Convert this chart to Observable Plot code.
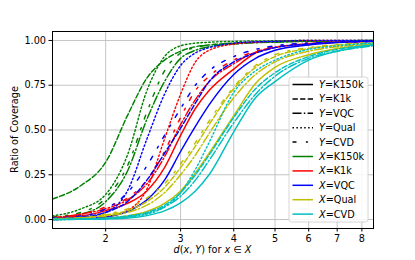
<!DOCTYPE html>
<html><head><meta charset="utf-8">
<script src="https://cdn.jsdelivr.net/npm/d3@7"></script>
<script src="https://cdn.jsdelivr.net/npm/@observablehq/plot@0.6"></script>
<style>
body{margin:0;background:#fff;}
#wrap{position:relative;width:415px;height:260px;font-family:"DejaVu Sans",sans-serif;}
</style></head><body><div id="wrap"></div>
<script>
// sample positions along d(x,Y) (log axis)
const xGrid = [1.5,1.75,2,2.25,2.5,2.75,3,3.25,3.5,4,4.5,5,6,7,8.5];
const xTicks = [2,3,4,5,6,7,8];
const yTicks = [0,0.25,0.5,0.75,1];
const xSets = ["K150k","K1k","VQC","Qual","CVD"];
const ySets = ["K150k","K1k","VQC","Qual","CVD"];
const xColors = ["#008000","#ff0000","#0000ff","#bfbf00","#00bfbf"];

// X = K150k
const g_K1k  = [0.115,0.19,0.32,0.58,0.79,0.89,0.94,0.965,0.975,0.985,0.99,0.993,0.996,0.998,1.0];
const g_VQC  = [0.01,0.03,0.10,0.27,0.56,0.77,0.90,0.945,0.965,0.98,0.987,0.99,0.995,0.997,0.999];
const g_Qual = [0.02,0.06,0.14,0.36,0.72,0.91,0.97,0.985,0.99,0.995,0.997,0.998,1,1,1];
const g_CVD  = [0.015,0.04,0.12,0.30,0.60,0.83,0.93,0.96,0.975,0.985,0.99,0.993,0.996,0.998,1];
// X = K1k
const r_K150k = [0.01,0.02,0.05,0.09,0.16,0.29,0.47,0.62,0.72,0.84,0.93,0.96,0.98,0.99,0.995];
const r_VQC   = [0.01,0.03,0.06,0.11,0.20,0.35,0.53,0.67,0.77,0.87,0.935,0.962,0.982,0.99,0.995];
const r_Qual  = [0.0,0.005,0.015,0.05,0.17,0.45,0.70,0.88,0.945,0.98,0.99,0.995,1,1,1];
const r_CVD   = [0.01,0.03,0.07,0.12,0.22,0.38,0.57,0.72,0.80,0.89,0.94,0.965,0.985,0.99,0.995];
// X = VQC
const b_K150k = [0.0,0.005,0.015,0.045,0.11,0.22,0.38,0.52,0.64,0.81,0.90,0.945,0.975,0.988,0.995];
const b_K1k   = [0.005,0.015,0.04,0.10,0.22,0.37,0.51,0.65,0.77,0.88,0.93,0.96,0.98,0.99,0.995];
const b_Qual  = [0.005,0.01,0.04,0.16,0.45,0.70,0.86,0.93,0.96,0.985,0.992,0.995,1,1,1];
const b_CVD   = [0.01,0.02,0.06,0.15,0.30,0.47,0.62,0.75,0.83,0.91,0.95,0.97,0.985,0.99,0.995];
// X = Qual
const y_K150k = [0.0,0.003,0.008,0.02,0.045,0.09,0.16,0.26,0.37,0.58,0.76,0.85,0.92,0.955,0.975];
const y_K1k   = [0.005,0.01,0.025,0.05,0.10,0.18,0.29,0.41,0.53,0.73,0.85,0.91,0.955,0.975,0.985];
const y_VQC   = [0.003,0.008,0.02,0.04,0.08,0.15,0.25,0.36,0.48,0.68,0.81,0.88,0.94,0.965,0.98];
const y_CVD   = [0.005,0.012,0.03,0.06,0.12,0.20,0.31,0.43,0.55,0.74,0.86,0.92,0.96,0.978,0.988];
// X = CVD
const c_K150k = [0,0.001,0.003,0.008,0.022,0.048,0.093,0.16,0.25,0.49,0.68,0.77,0.89,0.94,0.975];
const c_K1k   = [0,0.003,0.008,0.02,0.04,0.08,0.15,0.25,0.36,0.57,0.73,0.82,0.91,0.95,0.975];
const c_VQC   = [0,0.002,0.006,0.015,0.035,0.07,0.13,0.22,0.33,0.54,0.70,0.80,0.90,0.94,0.97];
const c_Qual  = [0,0.002,0.005,0.012,0.03,0.07,0.15,0.28,0.43,0.71,0.83,0.89,0.95,0.97,0.985];

const series = [
  ["K150k","K1k",g_K1k],["K150k","VQC",g_VQC],["K150k","Qual",g_Qual],["K150k","CVD",g_CVD],
  ["K1k","K150k",r_K150k],["K1k","VQC",r_VQC],["K1k","Qual",r_Qual],["K1k","CVD",r_CVD],
  ["VQC","K150k",b_K150k],["VQC","K1k",b_K1k],["VQC","Qual",b_Qual],["VQC","CVD",b_CVD],
  ["Qual","K150k",y_K150k],["Qual","K1k",y_K1k],["Qual","VQC",y_VQC],["Qual","CVD",y_CVD],
  ["CVD","K150k",c_K150k],["CVD","K1k",c_K1k],["CVD","VQC",c_VQC],["CVD","Qual",c_Qual]
];
const dashes = {K150k:null, K1k:"5.3,2.3", VQC:"9,2.3,1.5,2.3", Qual:"1.5,2.4", CVD:"4,9.4,2,9"};
const colorOf = Object.fromEntries(xSets.map((s,i)=>[s,xColors[i]]));

const lineMarks = series.map(([X,Y,vals]) => Plot.line(
  xGrid.map((d,i)=>({d, r: vals[i]})),
  {x:"d", y:"r", stroke: colorOf[X], strokeWidth:1.45,
   strokeDasharray: dashes[Y] || undefined, curve:"monotone-x", clip:true}
));

const font = "DejaVu Sans, sans-serif";
const chart = Plot.plot({
  width:415, height:260,
  marginLeft:52, marginRight:42, marginTop:31, marginBottom:32,
  style:{fontFamily:font, fontSize:"9.7px", color:"#000", background:"#fff"},
  x:{type:"log", domain:[1.5,8.52]},
  y:{domain:[-0.05,1.05]},
  marks:[
    Plot.gridX(xTicks,{stroke:"#c4c4c4", strokeOpacity:1, strokeWidth:1}),
    Plot.gridY(yTicks,{stroke:"#c4c4c4", strokeOpacity:1, strokeWidth:1}),
    ...lineMarks,
    Plot.axisX(xTicks,{text:null, tickSize:3.5, label:null, stroke:"#000"}),
    Plot.text(xTicks,{x:d=>d, text:d=>String(d), frameAnchor:"bottom", dy:13.5, fontSize:9.7, fill:"#000", textAnchor:"middle"}),
    Plot.axisY(yTicks,{tickFormat:d3.format(".2f"), tickSize:3.5, tickPadding:3, label:null, fontSize:9.7, stroke:"#000"}),
    Plot.frame({stroke:"#000", strokeWidth:1})
  ]
});
document.getElementById("wrap").appendChild(chart);

const svg = d3.select(chart);
// x label with math italics
const xl = svg.append("text").attr("x",212.5).attr("y",253).attr("text-anchor","middle")
  .attr("font-size","9.7px").attr("font-family",font).attr("fill","#000");
[["d",1],["(",0],["x",1],[", ",0],["Y",1],[") for ",0],["x",1],[" \u2208 ",0],["X",1]].forEach(([t,it])=>{
  xl.append("tspan").text(t).attr("font-style", it?"italic":"normal");
});
svg.append("text").attr("transform","translate(18,129.5) rotate(-90)").attr("text-anchor","middle")
  .attr("font-size","9.7px").attr("font-family",font).attr("fill","#000").text("Ratio of Coverage");

// legend
const lg = svg.append("g").attr("text-anchor","start");
lg.append("rect").attr("x",289).attr("y",77).attr("width",79).attr("height",145).attr("rx",2.5)
  .attr("fill","#ffffff").attr("fill-opacity",0.85).attr("stroke","#cccccc").attr("stroke-width",0.8);
const entries = [
  ...ySets.map(s=>({pre:"Y", name:s, color:"#000", dash:dashes[s]})),
  ...xSets.map(s=>({pre:"X", name:s, color:colorOf[s], dash:null}))
];
entries.forEach((e,i)=>{
  const cy = 84.5 + i*14.4;
  lg.append("line").attr("x1",292.5).attr("x2",313).attr("y1",cy).attr("y2",cy)
    .attr("stroke",e.color).attr("stroke-width",1.5).attr("stroke-dasharray",e.dash||null);
  const t = lg.append("text").attr("x",319).attr("y",cy+3.5).attr("font-size","9.7px")
    .attr("text-anchor","start").attr("font-family",font).attr("fill","#000");
  t.append("tspan").text(e.pre).attr("font-style","italic");
  t.append("tspan").text("="+e.name);
});
</script></body></html>
